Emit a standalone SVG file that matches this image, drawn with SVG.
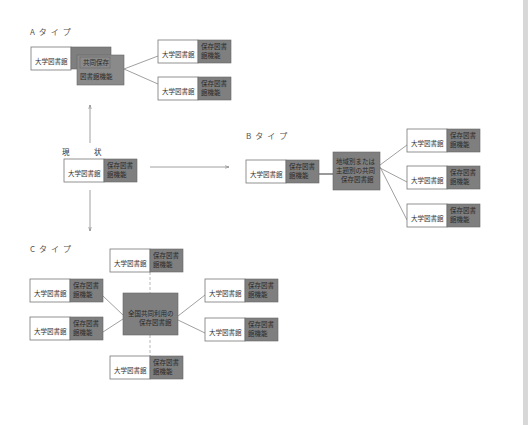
<svg xmlns="http://www.w3.org/2000/svg" width="528" height="425" viewBox="0 0 528 425">
<style>
text{font-family:"Noto Sans CJK JP","Noto Sans",sans-serif;fill:#333}
.w{fill:#fff;stroke:#777;stroke-width:0.8}
.d{fill:#7f7f7f;stroke:#666;stroke-width:0.6}
.t{font-size:6.5px}
.td{font-size:6.5px;fill:#2a2a2a}
.lab{font-size:8px;letter-spacing:4px;fill:#555}
.c{stroke:#888;stroke-width:0.8;fill:none}
.dash{stroke:#999;stroke-width:0.7;fill:none;stroke-dasharray:3 2}
</style>
<defs>
<marker id="ah" viewBox="0 0 6 6" refX="6" refY="3" markerWidth="5" markerHeight="5" orient="auto"><path d="M0,1 L6,3 L0,5" fill="none" stroke="#777" stroke-width="0.8"/></marker>
<g id="unit">
<rect class="w" x="0" y="0" width="40" height="23"/>
<rect class="d" x="40" y="0" width="33" height="23"/>
<text class="t" x="4" y="17">大学図書館</text>
<text class="td" x="43" y="9">保存図書</text>
<text class="td" x="43" y="17.5">館機能</text>
</g>
</defs>
<rect x="523" y="0" width="5" height="425" fill="#d8d8d8"/>
<text class="lab" x="30" y="35">Aタイプ</text>
<text class="lab" x="246" y="139">Bタイプ</text>
<text class="lab" x="30" y="252">Cタイプ</text>
<text x="62" y="155" style="font-size:7.5px">現</text>
<text x="94" y="155" style="font-size:7.5px">状</text>
<g id="connectors">
<line class="c" x1="90" y1="143" x2="90" y2="105" marker-end="url(#ah)"/>
<line class="c" x1="90" y1="190" x2="90" y2="231" marker-end="url(#ah)"/>
<line class="c" x1="150" y1="167" x2="229" y2="167" marker-end="url(#ah)"/>
<line class="c" x1="124" y1="69" x2="158" y2="56"/>
<line class="c" x1="124" y1="69" x2="158" y2="84"/>
<line x1="319" y1="174" x2="333" y2="174" stroke="#555" stroke-width="1.2"/>
<line class="c" x1="380" y1="165" x2="407" y2="145"/>
<line class="c" x1="380" y1="168" x2="407" y2="182"/>
<line class="c" x1="380" y1="167" x2="407" y2="220"/>
<line class="dash" x1="150" y1="272" x2="150" y2="293"/>
<line class="dash" x1="150" y1="335" x2="150" y2="356"/>
<line class="c" x1="103" y1="296" x2="123" y2="315"/>
<line class="c" x1="103" y1="332" x2="123" y2="319"/>
<line class="c" x1="178" y1="316" x2="205" y2="295"/>
<line class="c" x1="178" y1="320" x2="205" y2="333"/>
</g>
<g id="a-main">
<rect class="w" x="31" y="47" width="40" height="23"/>
<text class="t" x="35" y="64">大学図書館</text>
<rect class="d" x="71" y="47" width="40" height="22"/>
<rect x="77" y="55" width="47" height="30" fill="#8a8a8a" stroke="#666" stroke-width="0.6"/>
<rect x="80" y="57" width="30" height="11" fill="none" stroke="#666" stroke-width="0.6"/>
<text class="td" x="83" y="65">共同保存</text>
<text class="td" x="80" y="79">図書館機能</text>
</g>
<g id="a-1"><use href="#unit" x="158" y="40"/></g>
<g id="a-2"><use href="#unit" x="158" y="77"/></g>
<g id="now"><use href="#unit" x="64" y="159"/></g>
<g id="b-main"><use href="#unit" x="246" y="160"/></g>
<g id="b-center">
<rect class="d" x="333" y="152" width="47" height="38"/>
<text class="td" x="336" y="164">地域別または</text>
<text class="td" x="336" y="173">主題別の共同</text>
<text class="td" x="341" y="182">保存図書館</text>
</g>
<g id="b-1"><use href="#unit" x="407" y="129"/></g>
<g id="b-2"><use href="#unit" x="407" y="166"/></g>
<g id="b-3"><use href="#unit" x="407" y="204"/></g>
<g id="c-center">
<rect class="d" x="123" y="293" width="55" height="42"/>
<text class="td" x="128" y="316">全国共同利用の</text>
<text class="td" x="139" y="325">保存図書館</text>
</g>
<g id="c-top"><use href="#unit" x="110" y="249"/></g>
<g id="c-bottom"><use href="#unit" x="110" y="356"/></g>
<g id="c-l1"><use href="#unit" x="30" y="279"/></g>
<g id="c-l2"><use href="#unit" x="30" y="317"/></g>
<g id="c-r1"><use href="#unit" x="205" y="279"/></g>
<g id="c-r2"><use href="#unit" x="205" y="318"/></g>
</svg>
